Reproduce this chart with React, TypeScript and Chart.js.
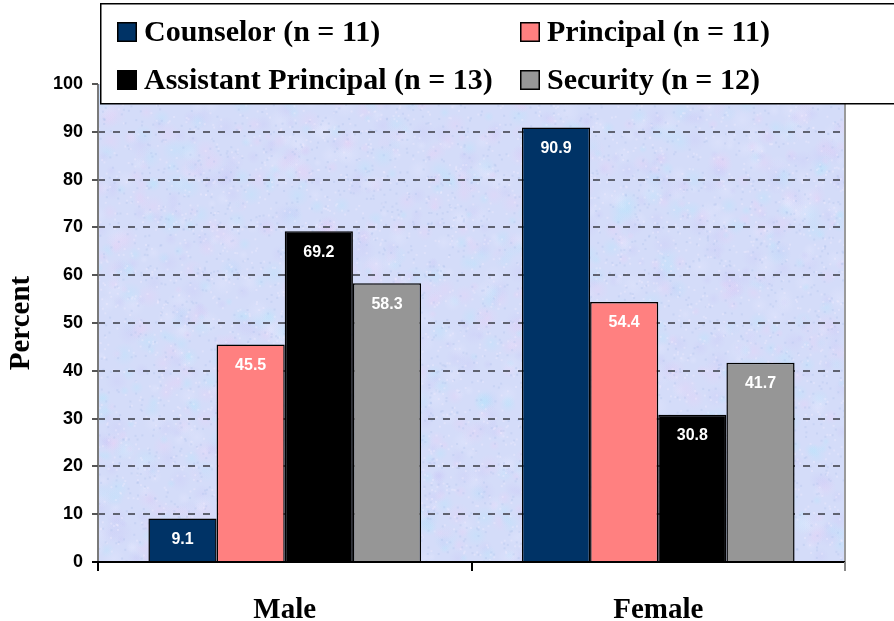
import React, { useEffect, useRef } from "react";
import { Chart, registerables } from "chart.js";

Chart.register(...registerables);

const categories = ["Male", "Female"];
const seriesNames = [
  "Counselor (n = 11)",
  "Principal (n = 11)",
  "Assistant Principal (n = 13)",
  "Security (n = 12)",
];
const counselor = [9.1, 90.9];
const principal = [45.5, 54.4];
const assistantPrincipal = [69.2, 30.8];
const security = [58.3, 41.7];
const seriesColors = ["#003366", "#FF8080", "#000000", "#969696"];
const yTicks = [0, 10, 20, 30, 40, 50, 60, 70, 80, 90, 100];

const SERIF = '"Liberation Serif", "Times New Roman", serif';
const SANS = '"Liberation Sans", Arial, sans-serif';

function hash(x: number, y: number, s: number) {
  let h = (x * 374761393 + y * 668265263 + s * 1442695041) | 0;
  h = Math.imul(h ^ (h >>> 13), 1274126177);
  h = h ^ (h >>> 16);
  return ((h >>> 0) % 10000) / 10000;
}

function makeTexture(w: number, h: number) {
  const c = document.createElement("canvas");
  c.width = w;
  c.height = h;
  const g = c.getContext("2d")!;
  g.fillStyle = "rgb(212,220,249)";
  g.fillRect(0, 0, w, h);
  const tints = [
    "rgba(238,205,245,0.28)",
    "rgba(180,230,252,0.32)",
    "rgba(200,196,246,0.26)",
    "rgba(232,234,255,0.3)",
  ];
  for (let i = 0; i < 1800; i++) {
    const x = hash(i, 1, 7) * w;
    const y = hash(i, 2, 11) * h;
    const r = 4 + hash(i, 3, 13) * 9;
    const grd = g.createRadialGradient(x, y, 0, x, y, r);
    const col = tints[Math.floor(hash(i, 4, 17) * tints.length)];
    grd.addColorStop(0, col);
    grd.addColorStop(1, col.replace(/[\d.]+\)$/, "0)"));
    g.fillStyle = grd;
    g.fillRect(x - r, y - r, r * 2, r * 2);
  }
  for (let i = 0; i < 6000; i++) {
    const x = hash(i, 5, 19) * w;
    const y = hash(i, 6, 23) * h;
    const v = hash(i, 7, 29);
    g.fillStyle = v < 0.5 ? "rgba(170,190,235,0.28)" : "rgba(244,238,255,0.35)";
    g.fillRect(x, y, 2, 2);
  }
  return c;
}

const decorPlugin = {
  id: "decor",
  beforeDatasetsDraw(chart: any) {
    const { ctx, chartArea: a, scales } = chart;
    const y = scales.y;
    ctx.save();
    const tex = makeTexture(Math.ceil(a.right - a.left), Math.ceil(a.bottom - a.top));
    ctx.drawImage(tex, a.left, a.top);
    ctx.strokeStyle = "rgb(95,98,112)";
    ctx.lineWidth = 2;
    ctx.setLineDash([7, 8]);
    for (const t of yTicks) {
      if (t === 0 || t === 100) continue;
      const py = Math.round(y.getPixelForValue(t));
      ctx.beginPath();
      ctx.moveTo(a.left, py);
      ctx.lineTo(a.right, py);
      ctx.stroke();
    }
    ctx.setLineDash([]);
    ctx.strokeStyle = "#7a7a7a";
    ctx.lineWidth = 2;
    ctx.beginPath();
    ctx.moveTo(a.left, a.top);
    ctx.lineTo(a.left, a.bottom);
    ctx.stroke();
    ctx.strokeStyle = "#555";
    for (const t of yTicks) {
      const py = Math.round(y.getPixelForValue(t));
      ctx.beginPath();
      ctx.moveTo(a.left - 6, py);
      ctx.lineTo(a.left, py);
      ctx.stroke();
    }
    ctx.strokeStyle = "#9a9a9a";
    ctx.beginPath();
    ctx.moveTo(a.right, a.top);
    ctx.lineTo(a.right, a.bottom);
    ctx.stroke();
    ctx.restore();
  },
  afterDatasetsDraw(chart: any) {
    const { ctx, chartArea: a } = chart;
    ctx.save();
    ctx.strokeStyle = "#000";
    ctx.lineWidth = 2;
    ctx.beginPath();
    ctx.moveTo(a.left - 6, a.bottom);
    ctx.lineTo(a.right, a.bottom);
    ctx.stroke();
    const n = categories.length;
    for (let i = 0; i <= n; i++) {
      const px = Math.round(a.left + ((a.right - a.left) * i) / n);
      ctx.strokeStyle = i === n ? "#888" : "#000";
      ctx.beginPath();
      ctx.moveTo(px, a.bottom);
      ctx.lineTo(px, a.bottom + 9);
      ctx.stroke();
    }
    ctx.fillStyle = "#fff";
    ctx.font = `bold 16px ${SANS}`;
    ctx.textAlign = "center";
    ctx.textBaseline = "middle";
    chart.data.datasets.forEach((ds: any, di: number) => {
      const meta = chart.getDatasetMeta(di);
      meta.data.forEach((bar: any, i: number) => {
        ctx.fillText(ds.data[i].toFixed(1), bar.x, bar.y + 21);
      });
    });
    ctx.restore();
  },
  afterDraw(chart: any) {
    const { ctx } = chart;
    ctx.save();
    ctx.fillStyle = "#fff";
    ctx.fillRect(100, 3, 800, 101);
    ctx.strokeStyle = "#000";
    ctx.lineWidth = 1.5;
    ctx.strokeRect(100.75, 3.75, 800, 100);
    const pos = [
      [117, 32],
      [520, 32],
      [117, 80],
      [520, 80],
    ];
    ctx.font = `bold 30px ${SERIF}`;
    ctx.textAlign = "left";
    ctx.textBaseline = "middle";
    seriesNames.forEach((name, i) => {
      const [x, y] = pos[i];
      ctx.fillStyle = seriesColors[i];
      ctx.fillRect(x, y - 10, 20, 20);
      ctx.strokeStyle = "#000";
      ctx.lineWidth = 1.5;
      ctx.strokeRect(x + 0.75, y - 9.25, 18.5, 18.5);
      ctx.fillStyle = "#000";
      ctx.fillText(name, x + 27, y + 1);
    });
    ctx.restore();
  },
};

export default function App() {
  const ref = useRef<HTMLCanvasElement | null>(null);
  useEffect(() => {
    document.body.style.margin = "0";
    const seriesData = [counselor, principal, assistantPrincipal, security];
    const chart = new Chart(ref.current!, {
      type: "bar",
      data: {
        labels: categories,
        datasets: seriesNames.map((name, i) => ({
          label: name,
          data: seriesData[i],
          backgroundColor: seriesColors[i],
          borderColor: "#000",
          borderWidth: 1.5,
          categoryPercentage: 0.73,
          barPercentage: 1.0,
        })),
      },
      plugins: [decorPlugin],
      options: {
        responsive: false,
        animation: false,
        layout: { padding: { top: 84, right: 49, left: 0, bottom: 0 } },
        plugins: { legend: { display: false }, tooltip: { enabled: false } },
        scales: {
          y: {
            min: 0,
            max: 100,
            ticks: {
              stepSize: 10,
              color: "#000",
              font: { family: SANS, size: 18, weight: "bold" },
              padding: 7,
            },
            grid: { display: false },
            border: { display: false },
            title: {
              display: true,
              text: "Percent",
              color: "#000",
              font: { family: SERIF, size: 29, weight: "bold" },
            },
            afterFit: (s: any) => {
              s.width = 98;
            },
          },
          x: {
            ticks: {
              color: "#000",
              font: { family: SERIF, size: 29, weight: "bold" },
              padding: 23,
            },
            grid: { display: false },
            border: { display: false },
            afterFit: (s: any) => {
              s.height = 59;
            },
          },
        },
      },
    });
    return () => chart.destroy();
  }, []);
  return (
    <div style={{ width: 894, height: 621 }}>
      <canvas ref={ref} width={894} height={621} />
    </div>
  );
}
